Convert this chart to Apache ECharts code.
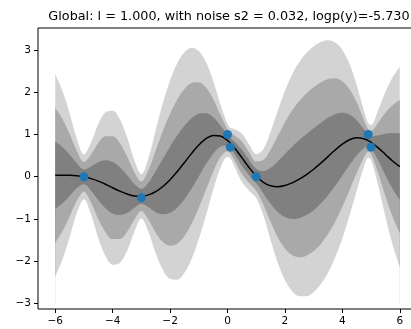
<!DOCTYPE html>
<html><head><meta charset="utf-8">
<script src="https://cdn.jsdelivr.net/npm/echarts@6/dist/echarts.min.js"></script>
<style>html,body{margin:0;padding:0;background:#fff}#c{width:411px;height:329px}</style>
</head><body><div id="c"></div>
<script>
// Posterior grid (x), mean and standard deviation
const gridX = [-6,-5.75,-5.5,-5.25,-5,-4.75,-4.5,-4.25,-4,-3.75,-3.5,-3.25,-3,-2.75,-2.5,-2.25,-2,-1.75,-1.5,-1.25,-1,-0.75,-0.5,-0.25,0,0.1,0.25,0.5,0.75,1,1.25,1.5,1.75,2,2.25,2.5,2.75,3,3.25,3.5,3.75,4,4.25,4.5,4.75,4.9,5,5.25,5.5,5.75,6];
const meanY = [0.034,0.038,0.035,0.024,-0.002,-0.044,-0.103,-0.177,-0.260,-0.341,-0.410,-0.454,-0.463,-0.430,-0.352,-0.231,-0.071,0.122,0.335,0.553,0.750,0.901,0.978,0.965,0.860,0.795,0.679,0.452,0.220,0.016,-0.131,-0.214,-0.236,-0.208,-0.145,-0.057,0.052,0.178,0.321,0.477,0.633,0.773,0.875,0.920,0.899,0.856,0.816,0.684,0.528,0.373,0.238];
const stdY = [0.799,0.665,0.490,0.296,0.176,0.286,0.450,0.567,0.608,0.567,0.450,0.286,0.175,0.294,0.487,0.658,0.782,0.854,0.870,0.833,0.742,0.604,0.432,0.253,0.129,0.122,0.149,0.191,0.183,0.173,0.263,0.427,0.599,0.746,0.855,0.924,0.960,0.969,0.956,0.917,0.848,0.742,0.597,0.417,0.223,0.136,0.136,0.300,0.492,0.660,0.789];
// Observations
const obsX = [-5,-3,0,0.1,1,4.9,5];
const obsY = [0,-0.5,1,0.7,0,1,0.7];
// Tick labels
const xTicks = [-6,-4,-2,0,2,4,6];
const yTicks = [-3,-2,-1,0,1,2,3];
const titleText = 'Global: l = 1.000, with noise s2 = 0.032, logp(y)=-5.730';

const chart = echarts.init(document.getElementById('c'), null, {renderer:'canvas'});
const FONT = 'DejaVu Sans';
function bandSeries(k, color, z, origin) {
  return {
    type: 'line', smooth: 0.35, showSymbol: false, silent: true, z: z,
    data: gridX.map((x, i) => [x, meanY[i] + k * stdY[i]]),
    lineStyle: {width: 0, color: color},
    areaStyle: {color: color, opacity: 1, origin: origin}
  };
}
const fmt = v => String(v).replace('-', '\u2212');
const axisCommon = {
  type: 'value', splitLine: {show: false},
  axisLine: {show: false, onZero: false},
  axisTick: {show: true, inside: false, length: 4, lineStyle: {color: '#000', width: 1}},
  axisLabel: {color: '#000', fontFamily: FONT, fontSize: 10.5, margin: 7, formatter: fmt}
};
chart.setOption({
  animation: false,
  backgroundColor: '#fff',
  graphic: [{
    type: 'text', x: 229, y: 16.5, z: 100,
    style: {text: titleText, textAlign: 'center', textVerticalAlign: 'middle',
            font: '12.8px "DejaVu Sans"', fill: '#000'}
  }],
  grid: {left: 38, top: 28, width: 379, height: 281, outerBoundsMode: 'none', containLabel: false,
         show: true, borderColor: '#000', borderWidth: 1, backgroundColor: 'transparent'},
  xAxis: Object.assign({}, axisCommon, {
    min: -6.6, max: 6.6,
    axisTick: Object.assign({}, axisCommon.axisTick, {customValues: xTicks}),
    axisLabel: Object.assign({}, axisCommon.axisLabel, {customValues: xTicks})
  }),
  yAxis: Object.assign({}, axisCommon, {
    min: -3.13, max: 3.52,
    axisTick: Object.assign({}, axisCommon.axisTick, {customValues: yTicks}),
    axisLabel: Object.assign({}, axisCommon.axisLabel, {customValues: yTicks})
  }),
  series: [
    bandSeries(3, '#d3d3d3', 1, -3.0),
    bandSeries(2, '#a9a9a9', 2, -3.0),
    bandSeries(1, '#808080', 3, -3.0),
    bandSeries(-1, '#a9a9a9', 4, -3.0),
    bandSeries(-2, '#d3d3d3', 5, -3.0),
    bandSeries(-3, '#ffffff', 6, -3.1),
    {
      type: 'line', smooth: 0.35, showSymbol: false, z: 10,
      data: gridX.map((x, i) => [x, meanY[i]]),
      lineStyle: {color: '#000', width: 1.5}
    },
    {
      type: 'scatter', z: 11, symbolSize: 9,
      data: obsX.map((x, i) => [x, obsY[i]]),
      itemStyle: {color: '#1f77b4', opacity: 1}
    }
  ]
});
</script></body></html>
